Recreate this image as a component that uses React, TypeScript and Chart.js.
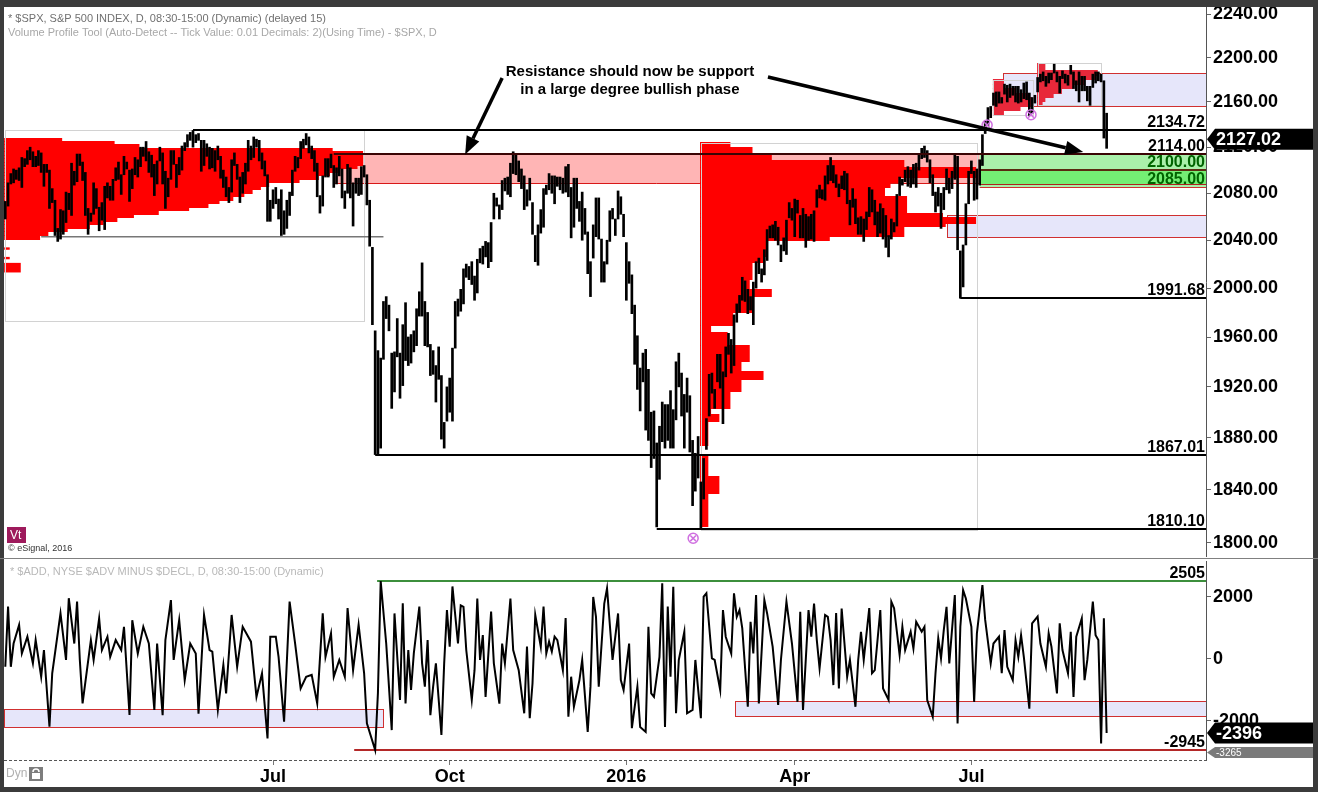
import React, { useEffect, useRef } from 'react';
import { Chart, registerables } from 'chart.js';

Chart.register(...registerables);

const FONT = 'Arial, "Liberation Sans", Helvetica, sans-serif';

// ---- S&P 500 daily bars, trading-day index 0 = 11 Feb 2015, last = 12 Sep 2016 ----
const priceLow = [
  2058, 2069, 2088, 2089, 2092, 2091, 2085, 2103, 2105, 2109, 2103, 2103,
  2104, 2098, 2086, 2098, 2067, 2072, 2044, 2039, 2041, 2045, 2055, 2066, 2061, 2087, 2090, 2104, 2091, 2061, 2045, 2056, 2062, 2067,
  2048, 2057, 2049, 2076, 2074, 2074, 2091, 2092, 2079, 2096, 2101, 2073, 2084, 2096, 2094, 2103, 2112, 2108, 2098, 2094, 2078,
  2088, 2108, 2088, 2067, 2077, 2092, 2105, 2085, 2096, 2100, 2117, 2120, 2126, 2120, 2124, 2126, 2099, 2104, 2112, 2101,
  2102, 2099, 2109, 2093, 2085, 2077, 2072, 2081, 2104, 2092, 2072, 2080, 2088, 2099, 2109, 2111, 2120, 2108, 2101, 2095, 2056, 2056,
  2067, 2071, 2058, 2044, 2045, 2050, 2061, 2078, 2099, 2102, 2110, 2119, 2122, 2115, 2110, 2099, 2077, 2063, 2069, 2094, 2094, 2102,
  2085, 2088, 2095, 2076, 2067, 2080, 2076, 2052, 2080, 2078, 2079, 2094, 2070, 2035, 1970, 1867.01, 1867, 1872, 1942, 1975, 1965,
  1903, 1916, 1944, 1911, 1921, 1941, 1937, 1939, 1948, 1953, 1977, 1977, 1953, 1952, 1929, 1930, 1908, 1926, 1879, 1872, 1893,
  1900, 1893, 1951, 1977, 1981, 1987, 2009, 2007, 2003, 1990, 1996, 2021, 2020, 2026, 2017, 2022, 2058, 2069, 2058, 2066, 2082, 2079,
  2077, 2097, 2096, 2090, 2084, 2066, 2069, 2074, 2045, 2022, 2019, 2046, 2051, 2079, 2083, 2080, 2071, 2086, 2083, 2080,
  2081, 2077, 2042, 2051, 2067, 2056, 2040, 2045, 2012, 1993, 2025, 2043, 2041, 2005, 2005, 2020, 2039, 2058, 2044, 2058, 2062, 2043,
  1990, 2004, 1979, 1938, 1918, 1901, 1924, 1886, 1878, 1857, 1864, 1812, 1848, 1877, 1872, 1878, 1872, 1872, 1894,
  1920, 1897, 1872, 1900, 1869, 1828, 1839, 1849, 1810.1, 1833, 1871, 1897, 1915, 1903, 1924, 1919, 1891, 1928, 1946, 1931,
  1937, 1972, 1980, 1990, 1989, 1979, 1982, 1970, 2000, 2012, 2005, 2011, 2023, 2042, 2042, 2040, 2036, 2022, 2031, 2028, 2059, 2057,
  2043, 2063, 2042, 2042, 2034, 2040, 2041, 2039, 2068, 2076, 2075, 2074, 2088, 2091, 2089, 2085, 2077, 2084, 2083, 2071, 2053,
  2068, 2054, 2045, 2045, 2039, 2049, 2060, 2064, 2053, 2043, 2046, 2041, 2034, 2026, 2041, 2047, 2052, 2078, 2087, 2090, 2086,
  2085, 2088, 2085, 2100, 2110, 2111, 2107, 2089, 2078, 2064, 2069, 2050, 2066, 2083, 2080, 2084, 2092, 2032, 1991.68, 2001, 2036, 2071,
  2097, 2074, 2075, 2087, 2104, 2132, 2139, 2146, 2157, 2156, 2159, 2159, 2167, 2160, 2164, 2166, 2160, 2159, 2160, 2163,
  2162, 2148, 2150, 2159, 2169, 2178, 2179, 2174, 2177, 2180, 2186, 2178, 2168, 2181, 2177, 2175, 2185, 2172, 2170, 2160, 2170, 2170, 2161,
  2157, 2173, 2177, 2179, 2178, 2128, 2119,
];
const priceHigh = [
  2073, 2089, 2097, 2101, 2100, 2102, 2111, 2110, 2117, 2120, 2116, 2112,
  2117, 2115, 2105, 2105, 2100, 2084, 2074, 2050, 2066, 2065, 2081, 2080, 2106, 2099, 2114, 2114, 2107, 2098, 2067, 2063, 2089, 2084,
  2068, 2072, 2086, 2089, 2086, 2092, 2102, 2107, 2096, 2112, 2107, 2100, 2101, 2111, 2109, 2120, 2120, 2125, 2116, 2113, 2105,
  2108, 2120, 2115, 2099, 2093, 2117, 2117, 2105, 2111, 2121, 2124, 2131, 2133, 2134.72, 2131, 2132, 2126, 2126, 2123, 2120,
  2119, 2117, 2121, 2112, 2100, 2094, 2085, 2109, 2115, 2105, 2094, 2098, 2106, 2126, 2121, 2129, 2127, 2126, 2115, 2108, 2096, 2074,
  2083, 2085, 2075, 2083, 2065, 2074, 2081, 2100, 2112, 2111, 2125, 2127, 2132, 2129, 2121, 2117, 2106, 2078, 2095, 2110, 2110, 2114,
  2104, 2102, 2112, 2101, 2082, 2105, 2102, 2089, 2093, 2093, 2103, 2104, 2096, 2074, 2034, 1965, 1949, 1943, 1989, 1993, 1986,
  1947, 1948, 1975, 1947, 1970, 1988, 1960, 1962, 1965, 1983, 1997, 2021, 1989, 1980, 1954, 1949, 1937, 1952, 1929, 1892, 1920,
  1927, 1951, 1989, 1991, 1999, 2016, 2020, 2018, 2022, 2010, 2024, 2033, 2035, 2039, 2038, 2055, 2080, 2076, 2070, 2091, 2093, 2094,
  2106, 2116, 2114, 2108, 2101, 2095, 2083, 2093, 2072, 2044, 2053, 2066, 2084, 2087, 2097, 2095, 2095, 2094, 2094, 2093,
  2103, 2105, 2085, 2093, 2093, 2073, 2081, 2067, 2047, 2022, 2053, 2076, 2076, 2041, 2022, 2040, 2065, 2067, 2058, 2082, 2077, 2062,
  2038, 2022, 2011, 1986, 1961, 1935, 1947, 1950, 1934, 1900, 1901, 1876, 1889, 1908, 1906, 1906, 1917, 1902, 1940,
  1947, 1931, 1914, 1927, 1913, 1878, 1868, 1881, 1846, 1864, 1895, 1930, 1931, 1918, 1946, 1946, 1932, 1952, 1963, 1958,
  1978, 1987, 1994, 2009, 2006, 1999, 1993, 2005, 2022, 2025, 2016, 2032, 2049, 2052, 2053, 2056, 2051, 2036, 2042, 2057, 2072, 2067,
  2075, 2074, 2061, 2067, 2062, 2060, 2062, 2065, 2083, 2087, 2083, 2095, 2104, 2111, 2104, 2096, 2088, 2095, 2099, 2097, 2074,
  2084, 2075, 2059, 2060, 2058, 2064, 2085, 2083, 2074, 2064, 2071, 2067, 2061, 2044, 2058, 2055, 2079, 2094, 2092, 2100, 2103,
  2100, 2105, 2106, 2113, 2119, 2121, 2117, 2109, 2096, 2081, 2085, 2080, 2085, 2101, 2093, 2099, 2113, 2112, 2031, 2036, 2071, 2099,
  2108, 2099, 2101, 2109, 2131, 2143, 2155, 2156, 2168, 2169, 2169, 2164, 2176, 2175, 2176, 2174, 2174, 2174, 2171, 2177,
  2178, 2168, 2164, 2166, 2182, 2185, 2187, 2183, 2186, 2186, 2194, 2187, 2183, 2188, 2185, 2184, 2193, 2187, 2179, 2187, 2183, 2183, 2174,
  2174, 2185, 2187, 2187, 2185, 2179, 2150,
];
const lastPrice = 2127.02;

// ---- axes ----
const dayMin = -0.47;
const dayMax = 435;
const priceMin = 1789.6;
const priceMax = 2246.5;
const priceTicks = [2240, 2200, 2160, 2120, 2080, 2040, 2000, 1960, 1920, 1880, 1840, 1800];
const monthTickDays = [97, 161, 225, 286, 350];
const monthTickLabels = ['Jul', 'Oct', '2016', 'Apr', 'Jul'];

// ---- horizontal levels ----
const levelPrices = [2134.72, 2114.0, 1991.68, 1867.01, 1810.1];
const levelStartDays = [68, 119, 346, 134, 236];
const labelPrices = [2134.72, 2114.0, 2100.0, 2085.0, 1991.68, 1867.01, 1810.1];
const labelGreen = [false, false, true, true, false, false, false];

// ---- zones (days, prices) ----
const pinkZoneDays = [119, 353];
const pinkZonePrices = [2088.5, 2114];
const greenZoneStart = 353;
const greenZoneEdges = [2114, 2100, 2088, 2085];
const lavenderZoneStarts = [361.5, 341];
const lavenderZoneLows = [2156, 2043];
const lavenderZoneHighs = [2186, 2061];

// ---- volume (time-at-price) profiles: price edges and widths in bars ----
const leftProfileStart = -0.4;
const leftProfileEdges = [2128, 2125, 2122, 2119, 2116, 2113, 2110, 2107, 2104, 2101, 2098, 2095, 2092, 2089, 2086, 2083, 2080, 2077, 2074, 2071, 2068, 2065, 2062, 2059, 2056, 2053, 2050, 2047, 2044, 2041];
const leftProfileBars = [21, 40, 49, 119, 130, 130, 130, 130, 128, 121, 118, 114, 107, 96, 93, 90, 87, 83, 78, 74, 67, 56, 47, 41, 36, 31, 23, 16, 13];
const leftTailTop = [2034, 2026, 2021];
const leftTailBottom = [2032, 2024, 2013];
const leftTailBars = [2, 2, 6];
const midProfileStart = 251.7;
const midProfileEdges = [2124, 2120, 2113, 2108, 2102, 2094, 2089, 2085, 2077, 2063, 2059, 2054, 2052, 2043, 2040, 2026, 2021, 2007, 1999, 1993, 1980, 1969, 1964, 1953, 1940, 1932, 1926, 1916, 1903, 1898, 1893, 1874, 1867, 1850, 1837, 1812];
const midProfileBars = [11, 19, 26, 74, 100, 72, 69, 67, 75, 88, 100, 89, 74, 47, 24, 23, 19, 18, 26, 19, 12, 4, 10, 18, 15, 23, 15, 11, 4, 7, 3, 0, 3, 7, 3];
const profileAStart = 357.8;
const profileAEdges = [2180, 2176, 2172, 2168, 2164, 2160, 2156, 2152, 2148];
const profileABars = [4, 4, 8, 13, 14, 14, 10, 4];
const profileBStart = 373.8;
const profileBEdges = [2195, 2188, 2184, 2180, 2176, 2172, 2168, 2164, 2160, 2157];
const profileBBars = [3, 22, 21, 17, 13, 9, 6, 3, 2];
// profile range boxes: [startDay, endDay], [lowPrice, highPrice]
const profileBoxDays = [[0, 130], [252, 352], [358, 372.5], [374, 397]];
const profileBoxPrices = [[1973, 2134.72], [1810, 2124], [2148, 2180], [2157, 2195]];
const lowValueLine = { from: 13, to: 137, price: 2043 };

// ---- markers and annotation ----
const markerDays = [249.2, 355.7, 371.6];
const markerPrices = [1803.5, 2139.5, 2148.6];
const noteDay = 226.3;
const notePrices = [2186.9, 2170.7];
const noteLines = ['Resistance should now be support', 'in a large degree bullish phase'];
const arrowFrom = [[180, 2181.5], [276.3, 2182.4]];
const arrowTo = [[166.6, 2113.5], [390.5, 2115.8]];

// ---- $ADD (NYSE advancers minus decliners), turning points by trading day ----
const addDays = [
  0, 1, 2, 3, 5, 6, 8, 10, 11, 13,
  14, 16, 17, 20, 22, 23, 25, 26, 27, 28,
  31, 32, 34, 35, 37, 38, 40, 42, 43, 45,
  46, 48, 50, 52, 54, 55, 57, 58, 60, 61,
  63, 65, 67, 69, 70, 72, 74, 75, 77, 79,
  80, 82, 84, 86, 87, 89, 91, 93, 95, 96,
  98, 99, 101, 103, 105, 107, 109, 111, 113, 115,
  116, 118, 119, 121, 123, 124, 126, 128, 130, 131,
  134, 135, 136, 138, 140, 141, 143, 144, 145, 146,
  147, 148, 150, 151, 152, 153, 154, 155, 156, 158,
  159, 160, 161, 162, 164, 165, 166, 167, 169, 170,
  171, 172, 173, 174, 176, 177, 179, 180, 181, 183,
  184, 186, 188, 189, 190, 191, 192, 194, 195, 196,
  197, 198, 199, 200, 202, 203, 204, 205, 206, 208,
  209, 211, 212, 213, 214, 215, 217, 218, 220, 222,
  223, 224, 226, 227, 229, 230, 232, 233, 234, 235,
  237, 238, 239, 240, 241, 242, 243, 244, 246, 247,
  249, 250, 252, 253, 254, 256, 257, 259, 260, 261,
  263, 264, 265, 266, 267, 269, 270, 271, 272, 273,
  275, 276, 278, 280, 281, 283, 285, 287, 288, 289,
  291, 292, 293, 294, 295, 297, 298, 299, 300, 301,
  302, 303, 305, 306, 308, 309, 310, 311, 313, 314,
  315, 317, 318, 320, 321, 322, 324, 325, 326, 328,
  329, 330, 332, 333, 334, 336, 337, 338, 339, 340,
  341, 342, 344, 345, 346, 347, 348, 350, 351, 352,
  354, 355, 357, 358, 360, 361, 362, 363, 365, 366,
  367, 368, 369, 371, 372, 374, 375, 377, 378, 379,
  381, 382, 383, 385, 386, 387, 388, 390, 391, 392,
  394, 395, 396, 397, 398, 399,
];
const addValues = [
  -260, 1680, -260, 490, 1090, 170, 710, -150, 600, -580,
  280, -2190, -470, 1460, -40, 1950, 490, 1840, -40, -1440,
  600, -40, 1300, 280, 710, 60, 600, 280, 1030, -1810,
  1240, 170, 1030, 490, -1650, 490, -1820, 600, 1890, -40,
  1250, -690, 490, 170, -1770, 1410, 280, 230, -1650, -200,
  -1120, 1410, -260, 1030, 870, 550, -1230, -470, -2570, 710,
  710, 60, -2030, 1840, 490, -960, -580, -520, -1440, 1460,
  60, 820, -580, -40, -580, 1630, -370, 1090, -470, -2080,
  -2945, -1100, 2505, 490, -2300, 1460, -1330, 1790, -1440, 280,
  -1010, 170, 1680, -150, -900, 600, -1820, -900, -150, -2460,
  -150, 1570, 390, 2330, 490, 1720, 1670, 280, -1330, -370,
  1940, -40, 760, -1230, 1520, -150, -1450, 490, -150, 1940,
  280, -370, -1760, 390, -1920, -800, 1410, 390, 1680, 170,
  550, 230, 710, 600, -370, 1310, -1870, -580, -1550, -690,
  -40, -2360, -900, 1990, 1350, -900, 1780, 2270, -40, 1460,
  -690, -1010, 490, -2240, -900, -2200, -2360, 1030, -1120, -1230,
  60, 2430, -2200, 1680, -580, 2320, -1760, -40, 870, -1760,
  -1650, -40, -1920, 2000, 2110, 10, -40, -1010, 1570, 710,
  170, 2110, 1350, 1570, 980, -1550, 1190, 170, 2050, -1440,
  1890, 1460, 390, -1490, -40, 1840, 490, -1390, 1510, -1650,
  1570, 710, 1780, 600, -310, 1410, 1350, 600, -850, 1470,
  -960, 1620, -580, -40, -1550, -40, 870, -40, 1630, -470,
  -370, 1570, -960, -1330, 1840, 1630, 120, 1030, 280, 870,
  330, 1190, 870, 1030, -1330, -1870, -470, 660, 10, 920,
  1670, -150, 2050, -2090, 1030, 2210, 1940, 1030, -1390, 820,
  2370, 1250, -150, 490, 710, -470, 920, -260, -690, 600,
  60, 760, 60, -1610, 1140, 1360, 490, -260, 820, 390,
  -1120, 1140, 280, -470, 870, -1230, 710, 1300, -690, -40,
  1840, 760, 600, -2730, 1300, -2396,
];
const lastAdd = -2396;
const addMin = -3265;
const addMax = 3150;
const addTicks = [2000, 0, -2000];
const addHighLevel = { value: 2505, from: 134.7 };
const addLowLevel = { value: -2945, from: 126.4 };
const addZoneFrom = [-1, 264.4];
const addZoneLow = [-2215, -1848];
const addZoneHigh = [-1634, -1355];
const addZoneTo = [136.8, 440];

function drawProfile(ctx: any, X: any, Y: any, start: number, edges: number[], bars: number[], color: string) {
  ctx.fillStyle = color;
  const x0 = X(start);
  for (let i = 0; i < bars.length; i++) {
    if (!bars[i]) continue;
    const yt = Math.floor(Y(edges[i]));
    const yb = Math.ceil(Y(edges[i + 1]));
    ctx.fillRect(x0, yt, X(start + bars[i]) - x0, yb - yt);
  }
}

function drawArrow(ctx: any, x0: number, y0: number, x1: number, y1: number) {
  const ang = Math.atan2(y1 - y0, x1 - x0);
  const L = 18;
  const W = 7;
  const bx = x1 - L * Math.cos(ang);
  const by = y1 - L * Math.sin(ang);
  ctx.strokeStyle = '#000';
  ctx.lineWidth = 3.5;
  ctx.beginPath();
  ctx.moveTo(x0, y0);
  ctx.lineTo(bx, by);
  ctx.stroke();
  ctx.fillStyle = '#000';
  ctx.beginPath();
  ctx.moveTo(x1, y1);
  ctx.lineTo(bx + W * Math.sin(ang), by - W * Math.cos(ang));
  ctx.lineTo(bx - W * Math.sin(ang), by + W * Math.cos(ang));
  ctx.closePath();
  ctx.fill();
}

function drawTag(ctx: any, left: number, right: number, yc: number, h: number, bg: string, text: string, font: string, color: string) {
  ctx.fillStyle = bg;
  ctx.beginPath();
  ctx.moveTo(left, yc);
  ctx.lineTo(left + 8, yc - h / 2);
  ctx.lineTo(right, yc - h / 2);
  ctx.lineTo(right, yc + h / 2);
  ctx.lineTo(left + 8, yc + h / 2);
  ctx.closePath();
  ctx.fill();
  ctx.fillStyle = color;
  ctx.font = font;
  ctx.textAlign = 'left';
  ctx.textBaseline = 'middle';
  ctx.fillText(text, left + 9, yc + 1);
}

const topPlugin = {
  id: 'topDecor',
  beforeDatasetsDraw(chart: any) {
    const { ctx, chartArea: a } = chart;
    const X = (d: number) => chart.scales.x.getPixelForValue(d);
    const Y = (p: number) => chart.scales.y.getPixelForValue(p);
    const R = a.right;
    ctx.save();
    ctx.beginPath();
    ctx.rect(a.left, a.top, a.right - a.left, a.bottom - a.top);
    ctx.clip();

    // pink resistance zone
    ctx.fillStyle = '#ffb5b5';
    ctx.fillRect(X(pinkZoneDays[0]), Y(pinkZonePrices[1]), X(pinkZoneDays[1]) - X(pinkZoneDays[0]), Y(pinkZonePrices[0]) - Y(pinkZonePrices[1]));
    ctx.strokeStyle = '#d81818';
    ctx.lineWidth = 1;
    ctx.beginPath();
    const pb = Math.round(Y(pinkZonePrices[0])) + 0.5;
    ctx.moveTo(X(pinkZoneDays[0]), pb);
    ctx.lineTo(X(pinkZoneDays[1]), pb);
    ctx.stroke();

    // lavender zones
    lavenderZoneStarts.forEach((d, i) => {
      const x0 = Math.round(X(d)) + 0.5;
      const yt = Math.round(Y(lavenderZoneHighs[i])) + 0.5;
      const yb = Math.round(Y(lavenderZoneLows[i])) + 0.5;
      ctx.fillStyle = '#e6e6fa';
      ctx.fillRect(x0, yt, R - x0, yb - yt);
      ctx.strokeStyle = '#d03030';
      ctx.lineWidth = 1;
      ctx.strokeRect(x0, yt, R - x0 + 5, yb - yt);
    });

    // green support zones
    const gx = X(greenZoneStart);
    const greens = ['#aaf0aa', '#74ee74', '#aaf0aa'];
    for (let i = 0; i < greens.length; i++) {
      const yt = Y(greenZoneEdges[i]);
      const yb = Y(greenZoneEdges[i + 1]);
      ctx.fillStyle = greens[i];
      ctx.fillRect(gx, yt, R - gx, yb - yt);
    }
    const gCols = ['#5a1010', '#5a2a10', '#b02020', '#d03030'];
    greenZoneEdges.forEach((p, i) => {
      if (i === 0) return;
      ctx.strokeStyle = gCols[i];
      ctx.lineWidth = i === 1 ? 2 : 1;
      const yy = Math.round(Y(p)) + (i === 1 ? 0 : 0.5);
      ctx.beginPath();
      ctx.moveTo(gx, yy);
      ctx.lineTo(R, yy);
      ctx.stroke();
    });

    // volume profiles
    drawProfile(ctx, X, Y, leftProfileStart, leftProfileEdges, leftProfileBars, '#ff0000');
    ctx.fillStyle = '#ff0000';
    leftTailBars.forEach((b, i) => {
      const yt = Y(leftTailTop[i]);
      const yb = Y(leftTailBottom[i]);
      ctx.fillRect(X(leftProfileStart), yt, X(leftProfileStart + b) - X(leftProfileStart), yb - yt);
    });
    drawProfile(ctx, X, Y, midProfileStart, midProfileEdges, midProfileBars, '#ff0000');
    drawProfile(ctx, X, Y, profileAStart, profileAEdges, profileABars, '#e8283a');
    drawProfile(ctx, X, Y, profileBStart, profileBEdges, profileBBars, '#e8283a');

    // profile range boxes
    ctx.strokeStyle = '#d2d2d2';
    ctx.lineWidth = 1;
    profileBoxDays.forEach((dd, i) => {
      const x0 = Math.round(X(dd[0])) + 0.5;
      const x1 = Math.round(X(dd[1])) + 0.5;
      const yt = Math.round(Y(profileBoxPrices[i][1])) + 0.5;
      const yb = Math.round(Y(profileBoxPrices[i][0])) + 0.5;
      ctx.strokeRect(x0, yt, x1 - x0, yb - yt);
    });

    // low value line of left profile
    ctx.strokeStyle = '#777';
    ctx.lineWidth = 1.5;
    ctx.beginPath();
    ctx.moveTo(X(lowValueLine.from), Y(lowValueLine.price));
    ctx.lineTo(X(lowValueLine.to), Y(lowValueLine.price));
    ctx.stroke();
    ctx.restore();
  },
  afterDatasetsDraw(chart: any) {
    const { ctx, chartArea: a } = chart;
    const X = (d: number) => chart.scales.x.getPixelForValue(d);
    const Y = (p: number) => chart.scales.y.getPixelForValue(p);
    const R = a.right;
    ctx.save();

    // level lines
    levelPrices.forEach((p, i) => {
      const yy = Math.round(Y(p));
      ctx.strokeStyle = i === 1 ? '#3a0505' : '#000';
      ctx.lineWidth = 2;
      ctx.beginPath();
      ctx.moveTo(X(levelStartDays[i]), yy);
      ctx.lineTo(R, yy);
      ctx.stroke();
    });

    // level labels
    ctx.font = `bold 16px ${FONT}`;
    ctx.textAlign = 'right';
    ctx.textBaseline = 'alphabetic';
    labelPrices.forEach((p, i) => {
      ctx.fillStyle = labelGreen[i] ? '#006400' : '#000';
      ctx.fillText(p.toFixed(2), R - 1, Math.round(Y(p)) - 3);
    });

    // annotation arrows & text
    arrowFrom.forEach((f, i) => {
      drawArrow(ctx, X(f[0]), Y(f[1]), X(arrowTo[i][0]), Y(arrowTo[i][1]));
    });
    ctx.font = `bold 15px ${FONT}`;
    ctx.textAlign = 'center';
    ctx.textBaseline = 'middle';
    ctx.fillStyle = '#000';
    noteLines.forEach((t, i) => ctx.fillText(t, X(noteDay), Y(notePrices[i])));

    // header texts
    ctx.textAlign = 'left';
    ctx.font = `11px ${FONT}`;
    ctx.fillStyle = '#707070';
    ctx.fillText('* $SPX, S&P 500 INDEX, D, 08:30-15:00 (Dynamic) (delayed 15)', 4, 12);
    ctx.fillStyle = '#a8a8a8';
    ctx.fillText('Volume Profile Tool (Auto-Detect -- Tick Value: 0.01 Decimals: 2)(Using Time) - $SPX, D', 4, 26);

    // Vt badge and copyright
    ctx.fillStyle = '#9e1a5c';
    ctx.fillRect(3, 520, 19, 16);
    ctx.fillStyle = '#fff';
    ctx.font = `12px ${FONT}`;
    ctx.fillText('Vt', 6, 529);
    ctx.fillStyle = '#333';
    ctx.font = `9px ${FONT}`;
    ctx.fillText('\u00A9 eSignal, 2016', 4, 542);
    ctx.restore();
  },
  afterDraw(chart: any) {
    const { ctx, chartArea: a } = chart;
    const y = chart.scales.y.getPixelForValue(lastPrice);
    ctx.save();
    drawTag(ctx, a.right + 1, chart.width, y, 21, '#000', lastPrice.toFixed(2), `bold 18px ${FONT}`, '#fff');
    ctx.restore();
  },
};

const bottomPlugin = {
  id: 'bottomDecor',
  beforeDatasetsDraw(chart: any) {
    const { ctx, chartArea: a } = chart;
    const X = (d: number) => chart.scales.x.getPixelForValue(d);
    const Y = (v: number) => chart.scales.y.getPixelForValue(v);
    ctx.save();
    ctx.beginPath();
    ctx.rect(a.left, a.top, a.right - a.left, a.bottom - a.top);
    ctx.clip();
    addZoneFrom.forEach((d, i) => {
      const x0 = Math.max(Math.round(X(d)), a.left) + 0.5;
      const x1 = Math.round(Math.min(X(addZoneTo[i]), a.right + 5)) + 0.5;
      const yt = Math.round(Y(addZoneHigh[i])) + 0.5;
      const yb = Math.round(Y(addZoneLow[i])) + 0.5;
      ctx.fillStyle = '#e6e6fa';
      ctx.fillRect(x0, yt, x1 - x0, yb - yt);
      ctx.strokeStyle = '#d03030';
      ctx.lineWidth = 1;
      ctx.strokeRect(x0, yt, x1 - x0, yb - yt);
    });
    ctx.lineWidth = 2;
    ctx.strokeStyle = '#3c8f3c';
    ctx.beginPath();
    ctx.moveTo(X(addHighLevel.from), Math.round(Y(addHighLevel.value)));
    ctx.lineTo(a.right, Math.round(Y(addHighLevel.value)));
    ctx.stroke();
    ctx.strokeStyle = '#b42828';
    ctx.beginPath();
    ctx.moveTo(X(addLowLevel.from), Math.round(Y(addLowLevel.value)));
    ctx.lineTo(a.right, Math.round(Y(addLowLevel.value)));
    ctx.stroke();
    ctx.restore();
  },
  afterDatasetsDraw(chart: any) {
    const { ctx, chartArea: a } = chart;
    const Y = (v: number) => chart.scales.y.getPixelForValue(v);
    ctx.save();
    ctx.font = `bold 16px ${FONT}`;
    ctx.textAlign = 'right';
    ctx.textBaseline = 'alphabetic';
    ctx.fillStyle = '#000';
    ctx.fillText(String(addHighLevel.value), a.right - 1, Math.round(Y(addHighLevel.value)) - 3);
    ctx.fillText(String(addLowLevel.value), a.right - 1, Math.round(Y(addLowLevel.value)) - 3);
    ctx.textAlign = 'left';
    ctx.textBaseline = 'middle';
    ctx.font = `11px ${FONT}`;
    ctx.fillStyle = '#b8b8b8';
    ctx.fillText('* $ADD, NYSE $ADV MINUS $DECL, D, 08:30-15:00 (Dynamic)', 6, 11);
    ctx.restore();
  },
  afterDraw(chart: any) {
    const { ctx, chartArea: a } = chart;
    const Y = (v: number) => chart.scales.y.getPixelForValue(v);
    ctx.save();
    // dashed time-axis line
    ctx.strokeStyle = '#555';
    ctx.lineWidth = 1;
    ctx.setLineDash([3, 2]);
    ctx.beginPath();
    ctx.moveTo(a.left, a.bottom + 0.5);
    ctx.lineTo(a.right, a.bottom + 0.5);
    ctx.stroke();
    ctx.setLineDash([]);
    drawTag(ctx, a.right + 1, chart.width, Y(lastAdd), 21, '#000', String(lastAdd), `bold 18px ${FONT}`, '#fff');
    drawTag(ctx, a.right + 1, chart.width, a.bottom - 7.5, 11, '#7a7a7a', String(addMin), `10px ${FONT}`, '#fff');
    // "Dyn" and lock badge
    ctx.font = `12px ${FONT}`;
    ctx.fillStyle = '#b0b0b0';
    ctx.textAlign = 'left';
    ctx.textBaseline = 'middle';
    ctx.fillText('Dyn', 2, a.bottom + 14);
    ctx.fillStyle = '#7d7d7d';
    ctx.fillRect(25, a.bottom + 7, 14, 14);
    ctx.strokeStyle = '#fff';
    ctx.lineWidth = 1.5;
    ctx.beginPath();
    ctx.arc(32, a.bottom + 12, 3, Math.PI, 0);
    ctx.stroke();
    ctx.fillStyle = '#fff';
    ctx.fillRect(28, a.bottom + 13, 8, 6);
    ctx.restore();
  },
};

export default function App() {
  const topRef = useRef<HTMLCanvasElement>(null);
  const botRef = useRef<HTMLCanvasElement>(null);

  useEffect(() => {
    const yFit = (s: any) => {
      s.width = 107;
      s.paddingTop = 0;
      s.paddingBottom = 0;
    };
    const top = new Chart(topRef.current as HTMLCanvasElement, {
      type: 'bar',
      data: {
        datasets: [
          {
            type: 'bar',
            data: priceLow.map((lo, i) => ({ x: i, y: [lo, priceHigh[i]] })),
            backgroundColor: '#000',
            borderWidth: 0,
            barThickness: 2,
            order: 2,
          } as any,
          {
            type: 'scatter',
            data: markerDays.map((d, i) => ({ x: d, y: markerPrices[i] })),
            pointStyle: 'circle',
            pointRadius: 5,
            borderColor: '#cf6fe0',
            backgroundColor: 'rgba(0,0,0,0)',
            borderWidth: 1.5,
            order: 1,
          } as any,
          {
            type: 'scatter',
            data: markerDays.map((d, i) => ({ x: d, y: markerPrices[i] })),
            pointStyle: 'crossRot',
            pointRadius: 4,
            borderColor: '#cf6fe0',
            borderWidth: 1.5,
            order: 1,
          } as any,
        ],
      },
      options: {
        responsive: false,
        animation: false,
        devicePixelRatio: 1,
        events: [],
        layout: { padding: 0, autoPadding: false },
        plugins: { legend: { display: false }, tooltip: { enabled: false } },
        scales: {
          x: { type: 'linear', min: dayMin, max: dayMax, offset: false, display: false },
          y: {
            type: 'logarithmic',
            position: 'right',
            min: priceMin,
            max: priceMax,
            afterBuildTicks: (s: any) => {
              s.ticks = priceTicks.map((v) => ({ value: v }));
            },
            afterFit: yFit,
            ticks: {
              autoSkip: false,
              padding: 2,
              color: '#000',
              font: { family: FONT, size: 18, weight: 'bold' },
              callback: (v: any) => Number(v).toFixed(2),
            },
            grid: { drawOnChartArea: false, drawTicks: true, tickLength: 5, color: '#666' },
            border: { display: true, color: '#555', width: 1 },
          },
        },
      } as any,
      plugins: [topPlugin],
    });

    const bot = new Chart(botRef.current as HTMLCanvasElement, {
      type: 'line',
      data: {
        datasets: [
          {
            data: addDays.map((d, i) => ({ x: d, y: addValues[i] })),
            borderColor: '#000',
            borderWidth: 2,
            pointRadius: 0,
            tension: 0,
            fill: false,
          },
        ],
      },
      options: {
        responsive: false,
        animation: false,
        devicePixelRatio: 1,
        events: [],
        layout: { padding: 0, autoPadding: false },
        plugins: { legend: { display: false }, tooltip: { enabled: false } },
        scales: {
          x: {
            type: 'linear',
            min: dayMin,
            max: dayMax,
            offset: false,
            afterBuildTicks: (s: any) => {
              s.ticks = monthTickDays.map((v) => ({ value: v }));
            },
            afterFit: (s: any) => {
              s.height = 27;
              s.paddingLeft = 0;
              s.paddingRight = 0;
            },
            ticks: {
              autoSkip: false,
              maxRotation: 0,
              padding: 1,
              color: '#000',
              font: { family: FONT, size: 18, weight: 'bold' },
              callback: (_v: any, i: number) => monthTickLabels[i],
            },
            grid: { drawOnChartArea: false, drawTicks: true, tickLength: 5, color: '#777' },
            border: { display: false },
          },
          y: {
            type: 'linear',
            position: 'right',
            min: addMin,
            max: addMax,
            afterBuildTicks: (s: any) => {
              s.ticks = addTicks.map((v) => ({ value: v }));
            },
            afterFit: yFit,
            ticks: {
              autoSkip: false,
              padding: 2,
              color: '#000',
              font: { family: FONT, size: 18, weight: 'bold' },
              callback: (v: any) => String(v),
            },
            grid: { drawOnChartArea: false, drawTicks: true, tickLength: 5, color: '#666' },
            border: { display: true, color: '#555', width: 1 },
          },
        },
      } as any,
      plugins: [bottomPlugin],
    });

    return () => {
      top.destroy();
      bot.destroy();
    };
  }, []);

  return (
    <div style={{ position: 'fixed', left: 0, top: 0, width: 1318, height: 792, background: '#3b3b3b', overflow: 'hidden' }}>
      <div style={{ position: 'absolute', left: 4, top: 7, width: 1309, height: 780, background: '#fff' }} />
      <canvas ref={topRef} width={1309} height={550} style={{ position: 'absolute', left: 4, top: 7, width: 1309, height: 550 }} />
      <div style={{ position: 'absolute', left: 0, top: 558, width: 1318, height: 1, background: '#808080' }} />
      <canvas ref={botRef} width={1309} height={226} style={{ position: 'absolute', left: 4, top: 561, width: 1309, height: 226 }} />
    </div>
  );
}
